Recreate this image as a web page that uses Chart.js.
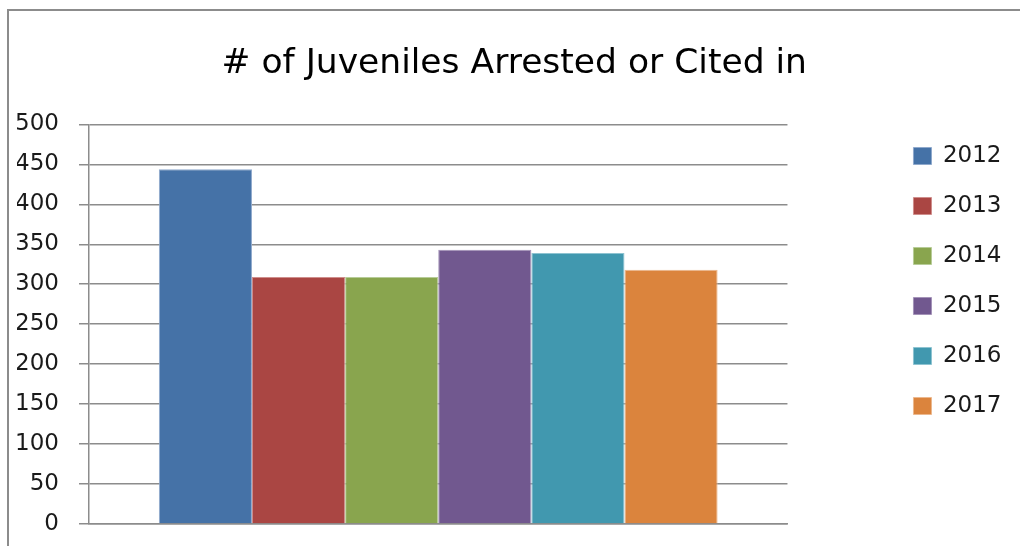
<!DOCTYPE html>
<html>
<head>
<meta charset="utf-8">
<script src="https://cdn.jsdelivr.net/npm/chart.js@4.4.1/dist/chart.umd.min.js"></script>
<style>
  html, body { margin: 0; padding: 0; background: #fff; }
  #wrap { position: relative; width: 1020px; height: 546px; overflow: hidden; }
  #frame { position: absolute; left: 7px; top: 9px; width: 1100px; height: 700px;
           border-top: 2px solid #8c8c8c; border-left: 2px solid #8c8c8c; pointer-events: none; }
  canvas { position: absolute; left: 0; top: 0; }
</style>
</head>
<body>
<div id="wrap">
  <canvas id="c" width="1020" height="546"></canvas>
  <div id="frame"></div>
</div>
<script>
const titleText = '# of Juveniles Arrested or Cited in';
const categories = [''];
const years = ['2012', '2013', '2014', '2015', '2016', '2017'];
const arrests = [444, 309, 309, 343, 339, 318];
const colors = ['#4572A7', '#AA4643', '#89A54E', '#71588F', '#4198AF', '#DB843D'];
const borders = ['#8fa9cc', '#cf8e8c', '#b7cc98', '#a493b8', '#8ec3d1', '#ecb88e'];
const yTicks = [0, 50, 100, 150, 200, 250, 300, 350, 400, 450, 500];

const datasets = years.map((y, i) => ({
  label: y,
  data: [arrests[i]],
  backgroundColor: colors[i],
  borderColor: borders[i],
  borderWidth: 1,
  categoryPercentage: 0.8,
  barPercentage: 1.0
}));

const gridColor = '#8c8c8c';
const noPad = (scale) => { scale.paddingTop = 0; scale.paddingBottom = 0; scale.paddingLeft = 0; scale.paddingRight = 0; };

new Chart(document.getElementById('c'), {
  type: 'bar',
  data: { labels: categories, datasets },
  options: {
    responsive: false,
    animation: false,
    layout: { padding: { left: 17, right: 8.5, top: 0, bottom: 0 } },
    plugins: {
      title: {
        display: true,
        text: titleText,
        color: '#000',
        font: { family: 'DejaVu Sans', size: 34.5, weight: 'normal' },
        padding: { top: 43, bottom: 40 }
      },
      legend: {
        position: 'right',
        title: { display: true, text: ' ', font: { size: 10, lineHeight: 1.6 }, padding: 0 },
        labels: {
          boxWidth: 18,
          boxHeight: 17,
          padding: 27,
          color: '#1a1a1a',
          font: { family: 'DejaVu Sans', size: 23 }
        }
      },
      tooltip: { enabled: false }
    },
    scales: {
      x: {
        grid: { display: false },
        border: { display: true, color: gridColor, width: 1.5 },
        ticks: { display: false },
        afterFit: (scale) => { scale.height = 22; noPad(scale); }
      },
      y: {
        min: 0,
        max: 500,
        afterBuildTicks: (scale) => { scale.ticks = yTicks.map(v => ({ value: v })); },
        afterFit: (scale) => { scale.width = 72; noPad(scale); },
        grid: { color: gridColor, lineWidth: 1.5, tickLength: 10, drawTicks: true },
        border: { display: true, color: gridColor, width: 1.5 },
        ticks: {
          padding: 20,
          color: '#1a1a1a',
          font: { family: 'DejaVu Sans', size: 23 }
        }
      },
      gap: {
        position: 'right',
        display: true,
        grid: { display: false, drawTicks: false },
        border: { display: false },
        ticks: { display: false },
        afterFit: (scale) => { scale.width = 99; noPad(scale); }
      }
    }
  }
});
</script>
</body>
</html>
